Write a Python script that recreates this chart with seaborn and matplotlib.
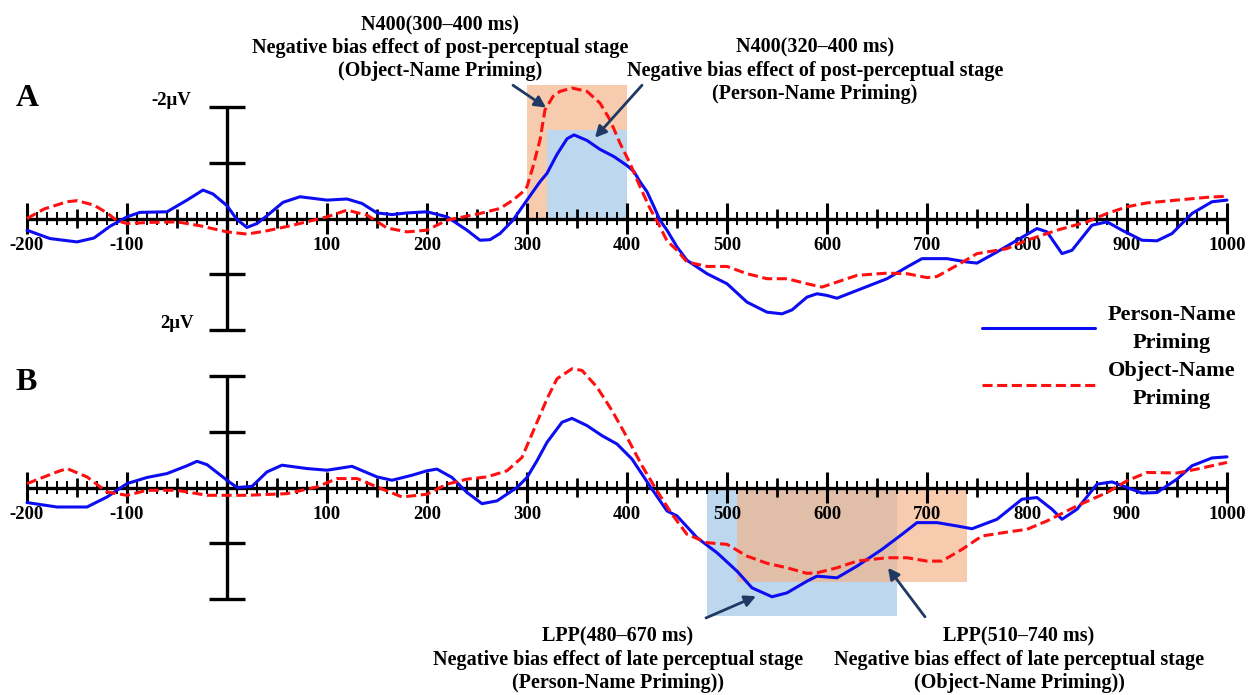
import numpy as np
import matplotlib
matplotlib.use("Agg")
import matplotlib.pyplot as plt
import seaborn as sns

# ------------------------------------------------------------------ data
a_person_t = [-200, -177, -150, -133, -117, -100, -87, -60, -40, -24, -14, 0, 10, 20, 30, 40, 56, 73,
              100, 120, 135, 150, 165, 180, 200, 220, 240, 253, 263, 273, 286, 300, 313, 320, 330,
              340, 347, 360, 373, 387, 400, 407, 413, 420, 427, 433, 440, 450, 460, 480, 500, 520,
              540, 555, 565, 580, 590, 600, 610, 630, 660, 680, 695, 720, 740, 750, 770, 790, 810,
              820, 835, 845, 865, 880, 895, 915, 930, 945, 965, 985, 1000]
a_person_v = [0.21, 0.36, 0.42, 0.35, 0.14, -0.03, -0.11, -0.12, -0.33, -0.51, -0.44, -0.23, 0.02, 0.16,
              0.09, -0.05, -0.29, -0.39, -0.33, -0.35, -0.27, -0.10, -0.07, -0.10, -0.12, -0.03, 0.21,
              0.39, 0.38, 0.27, 0.03, -0.33, -0.66, -0.81, -1.15, -1.43, -1.50, -1.40, -1.24, -1.11,
              -0.95, -0.84, -0.66, -0.48, -0.21, 0.03, 0.21, 0.51, 0.75, 0.99, 1.17, 1.50, 1.68, 1.71,
              1.64, 1.41, 1.35, 1.38, 1.43, 1.29, 1.08, 0.87, 0.72, 0.72, 0.78, 0.80, 0.60, 0.39, 0.18,
              0.24, 0.63, 0.57, 0.12, 0.06, 0.21, 0.39, 0.40, 0.27, -0.09, -0.30, -0.33]

a_object_t = [-200, -183, -160, -150, -133, -120, -110, -100, -77, -50, -27, 0, 20, 40, 66, 100, 120,
              140, 160, 180, 200, 220, 253, 273, 286, 296, 300, 306, 313, 318, 326, 333, 345, 360,
              373, 383, 393, 403, 413, 423, 433, 440, 450, 460, 480, 500, 520, 540, 560, 580, 595,
              610, 630, 660, 680, 700, 710, 730, 750, 780, 800, 830, 860, 880, 900, 920, 950, 980, 1000]
a_object_v = [0.0, -0.17, -0.30, -0.32, -0.24, -0.10, 0.04, 0.09, 0.07, 0.06, 0.13, 0.24, 0.28, 0.22,
              0.12, -0.03, -0.15, -0.06, 0.17, 0.24, 0.21, 0.03, -0.09, -0.18, -0.33, -0.48, -0.57,
              -0.93, -1.41, -1.95, -2.19, -2.28, -2.34, -2.28, -2.07, -1.77, -1.35, -0.99, -0.57,
              -0.18, 0.15, 0.40, 0.57, 0.78, 0.86, 0.86, 0.99, 1.08, 1.08, 1.17, 1.23, 1.14, 1.02,
              0.98, 0.99, 1.06, 1.04, 0.84, 0.63, 0.54, 0.39, 0.21, 0.06, -0.09, -0.21, -0.28, -0.33,
              -0.38, -0.40]

b_person_t = [-200, -170, -140, -120, -100, -80, -60, -40, -30, -20, 0, 10, 25, 40, 55, 80, 100, 125,
              150, 165, 185, 200, 210, 225, 240, 255, 270, 290, 300, 310, 320, 335, 345, 360, 375,
              390, 405, 415, 425, 440, 450, 470, 490, 510, 525, 545, 560, 580, 590, 610, 630, 655,
              675, 690, 710, 730, 745, 770, 795, 810, 825, 835, 850, 870, 885, 900, 915, 930, 950,
              965, 985, 1000]
b_person_v = [0.27, 0.35, 0.35, 0.17, -0.07, -0.18, -0.25, -0.39, -0.47, -0.41, -0.13, 0.0, -0.02,
              -0.28, -0.40, -0.34, -0.31, -0.38, -0.19, -0.13, -0.22, -0.30, -0.33, -0.18, 0.09, 0.29,
              0.24, 0.0, -0.18, -0.48, -0.81, -1.17, -1.24, -1.11, -0.93, -0.78, -0.51, -0.24, 0.03,
              0.42, 0.51, 0.90, 1.17, 1.50, 1.80, 1.96, 1.89, 1.68, 1.59, 1.62, 1.41, 1.11, 0.84,
              0.63, 0.63, 0.69, 0.74, 0.57, 0.21, 0.18, 0.39, 0.57, 0.39, -0.06, -0.10, 0.0, 0.10,
              0.09, -0.15, -0.39, -0.53, -0.55]

b_object_t = [-200, -170, -160, -140, -120, -100, -80, -50, -20, 20, 60, 90, 110, 130, 150, 175, 200,
              220, 240, 260, 280, 295, 310, 320, 330, 345, 355, 370, 385, 400, 415, 430, 445, 460,
              480, 500, 520, 540, 560, 580, 590, 610, 630, 660, 680, 700, 715, 735, 755, 780, 800,
              820, 850, 880, 900, 920, 950, 970, 1000]
b_object_v = [-0.07, -0.28, -0.34, -0.19, 0.08, 0.14, 0.05, 0.05, 0.14, 0.14, 0.11, -0.01, -0.16,
              -0.16, -0.01, 0.17, 0.12, -0.06, -0.15, -0.19, -0.30, -0.54, -1.17, -1.59, -1.95,
              -2.13, -2.10, -1.80, -1.38, -0.90, -0.39, 0.06, 0.48, 0.84, 0.99, 1.02, 1.23, 1.36,
              1.44, 1.54, 1.53, 1.44, 1.32, 1.26, 1.26, 1.32, 1.32, 1.11, 0.87, 0.80, 0.75, 0.60,
              0.33, 0.09, -0.12, -0.27, -0.26, -0.33, -0.45]

series_labels = ["Person-Name\nPriming", "Object-Name\nPriming"]
x_tick_values = list(range(-200, 1001, 100))
x_tick_labels = ["-200", "-100", "", "100", "200", "300", "400", "500", "600", "700", "800", "900", "1000"]
y_tick_values = [-2, -1, 1, 2]
y_label_texts = ["-2μV", "2μV"]

# analysis windows (ms) and their box extents (µV)
win_a_object = (300, 400, -2.39)
win_a_person = (320, 400, -1.58)
win_b_person = (480, 670, 2.30)
win_b_object = (510, 740, 1.69)

ann_a_object = "N400(300–400 ms)\nNegative bias effect of post-perceptual stage\n(Object-Name Priming)"
ann_a_person = "N400(320–400 ms)\nNegative bias effect of post-perceptual stage\n(Person-Name Priming)"
ann_b_person = "LPP(480–670 ms)\nNegative bias effect of late perceptual stage\n(Person-Name Priming))"
ann_b_object = "LPP(510–740 ms)\nNegative bias effect of late perceptual stage\n(Object-Name Priming))"

# ------------------------------------------------------------------ style
sns.set_theme(style="white")
plt.rcParams["font.family"] = ["Liberation Serif", "DejaVu Serif"]
plt.rcParams["font.weight"] = "bold"
plt.rcParams["text.color"] = "black"

BLUE = "#0D0DF2"
RED = "#FF1010"
NAVY = "#1F3864"
BOX_BLUE = "#BDD7EE"
BOX_ORANGE = "#F4B183"
BLACK = "black"

W, H = 1251, 695
fig = plt.figure(figsize=(W / 100, H / 100), dpi=100)
PX_PER_UV = 55.75


def make_axes(top_px, bottom_px, zero_px):
    ax = fig.add_axes([0, 1 - bottom_px / H, 1, (bottom_px - top_px) / H])
    ax.set_xlim(-227, W - 227)
    ax.set_ylim((bottom_px - zero_px) / PX_PER_UV, (top_px - zero_px) / PX_PER_UV)
    ax.set_axis_off()
    return ax


axA = make_axes(0, 350, 218.5)
axB = make_axes(350, H, 487.5)


def draw_axes(ax, show_units):
    x0, x1 = x_tick_values[0], x_tick_values[-1]
    ax.hlines(0, x0, x1, color=BLACK, lw=2.4, zorder=3)
    for t in range(x0, x1 + 1, 10):
        if t == 0:
            continue
        if t % 100 == 0:
            h, lw = 0.27, 2.2
        elif t % 50 == 0:
            h, lw = 0.17, 2.0
        else:
            h, lw = 0.115, 1.4
        ax.vlines(t, -h, h, color=BLACK, lw=lw, zorder=3)
    for t, lab in zip(x_tick_values, x_tick_labels):
        if lab:
            ax.text(t, 0.48, lab, ha="center", va="center", fontsize=13.5,
                    fontweight="bold", color=BLACK, zorder=4)
    ax.vlines(0, y_tick_values[0], y_tick_values[-1], color=BLACK, lw=2.4, zorder=3)
    for v in y_tick_values:
        ax.hlines(v, -18, 18, color=BLACK, lw=2.4, zorder=3)
    if show_units:
        ax.text(-36, y_tick_values[0] - 0.12, y_label_texts[0], ha="right", va="center",
                fontsize=13.5, fontweight="bold", color=BLACK)
        ax.text(-33, y_tick_values[-1] - 0.11, y_label_texts[1], ha="right", va="center",
                fontsize=13.5, fontweight="bold", color=BLACK)


def draw_curves(ax, pt, pv, ot, ov, with_labels):
    sns.lineplot(x=pt, y=pv, ax=ax, color=BLUE, lw=2.2, estimator=None, errorbar=None,
                 legend=False, label=series_labels[0] if with_labels else None, zorder=5)
    sns.lineplot(x=ot, y=ov, ax=ax, color=RED, lw=2.2, estimator=None, errorbar=None,
                 legend=False, linestyle=(0, (3.3, 1.5)),
                 label=series_labels[1] if with_labels else None, zorder=5)


# ---- Panel A
t0, t1, top = win_a_object
axA.fill_between([t0, t1], 0, top, color=BOX_ORANGE, alpha=0.65, lw=0, zorder=1)
t0, t1, top = win_a_person
axA.fill_between([t0, t1], 0, top, color=BOX_BLUE, lw=0, zorder=2)
draw_axes(axA, True)
draw_curves(axA, a_person_t, a_person_v, a_object_t, a_object_v, True)

# ---- Panel B
t0, t1, bot = win_b_person
axB.fill_between([t0, t1], 0, bot, color=BOX_BLUE, lw=0, zorder=1)
t0, t1, bot = win_b_object
axB.fill_between([t0, t1], 0, bot, color=BOX_ORANGE, alpha=0.65, lw=0, zorder=2)
draw_axes(axB, False)
draw_curves(axB, b_person_t, b_person_v, b_object_t, b_object_v, False)

# panel letters
axA.text(-200, -2.15, "A", ha="center", va="center", fontsize=23, fontweight="bold", color=BLACK)
axB.text(-201, -1.88, "B", ha="center", va="center", fontsize=23, fontweight="bold", color=BLACK)

# annotations
ann_kw = dict(ha="center", va="center", fontsize=14.5, fontweight="bold", linespacing=1.2,
              color=BLACK, zorder=6)
axA.text(213, -3.05, ann_a_object, **ann_kw)
axA.text(588, -2.65, ann_a_person, **ann_kw)
axB.text(391, 3.09, ann_b_person, **ann_kw)
axB.text(792, 3.09, ann_b_object, **ann_kw)

arrow = dict(arrowstyle="-|>,head_length=0.55,head_width=0.28", color=NAVY, lw=2.0,
             shrinkA=0, shrinkB=0)
axA.annotate("", xy=(319, -1.99), xytext=(286, -2.39), arrowprops=arrow, zorder=7)
axA.annotate("", xy=(368, -1.45), xytext=(415, -2.39), arrowprops=arrow, zorder=7)
axB.annotate("", xy=(529, 1.95), xytext=(479, 2.34), arrowprops=arrow, zorder=7)
axB.annotate("", xy=(661, 1.44), xytext=(698, 2.32), arrowprops=arrow, zorder=7)

# legend
handles, labels = axA.get_legend_handles_labels()
leg = fig.legend(handles, labels, loc="center", bbox_to_anchor=(1109 / W, 1 - 357 / H),
                 frameon=False, handlelength=5.1, handletextpad=0.55,
                 labelspacing=0.37, prop={"weight": "bold", "size": 16})
for txt in leg.get_texts():
    txt.set_multialignment("center")
    txt.set_linespacing(1.55)
    txt.set_color(BLACK)

fig.savefig("out.png", dpi=100)
